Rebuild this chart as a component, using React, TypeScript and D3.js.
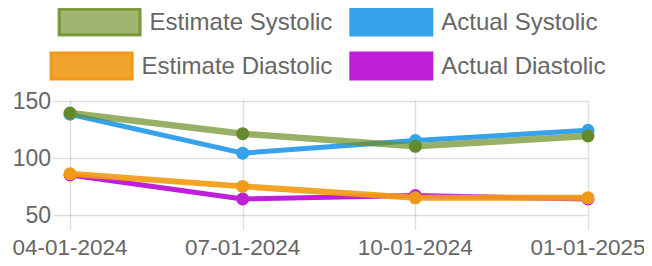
import { useEffect, useRef } from "react";
import * as d3 from "d3";

const WIDTH = 652;
const HEIGHT = 266;
const LABELS: string[] = ["04-01-2024", "07-01-2024", "10-01-2024", "01-01-2025"];
const SERIES_NAMES: string[] = ["Estimate Systolic", "Actual Systolic", "Estimate Diastolic", "Actual Diastolic"];
const EST_SYS: number[] = [139, 121, 110, 119];
const ACT_SYS: number[] = [138, 104, 115, 124];
const EST_DIA: number[] = [86, 75, 65, 65];
const ACT_DIA: number[] = [85, 64, 67, 64];
const Y_TICKS: number[] = [50, 100, 150];

const FONT = "'Liberation Sans', Arial, sans-serif";

const styles = [
  { line: "rgba(107,142,35,0.7)", point: "#638b2b", width: 6.5, box: "rgba(107,142,35,0.65)", border: "rgba(107,142,35,0.85)" },
  { line: "#36a2eb", point: "#36a2eb", width: 5, box: "#36a2eb", border: "#36a2eb" },
  { line: "rgba(243,156,18,0.92)", point: "#f0991a", width: 6, box: "rgba(240,160,35,0.95)", border: "#f0981a" },
  { line: "#c01fd9", point: "#c01fd9", width: 5, box: "#bf1fd8", border: "#c01fd9" },
];

const App = () => {
  const svgRef = useRef<SVGSVGElement | null>(null);

  useEffect(() => {
    if (!svgRef.current) return;
    const svg = d3.select(svgRef.current);
    svg.selectAll("*").remove();

    const data = [EST_SYS, ACT_SYS, EST_DIA, ACT_DIA];

    const x = d3.scalePoint<string>().domain(LABELS).range([70, 588]);
    const y = d3.scaleLinear().domain([50, 150]).range([215, 100.5]);

    // grid
    const grid = svg.append("g");
    grid
      .selectAll("line.h")
      .data(Y_TICKS)
      .join("line")
      .attr("x1", 53)
      .attr("x2", 588)
      .attr("y1", (d) => Math.round(y(d)) + 0.5)
      .attr("y2", (d) => Math.round(y(d)) + 0.5)
      .attr("stroke", "rgba(0,0,0,0.12)")
      .attr("stroke-width", 1.5);
    grid
      .selectAll("line.v")
      .data(LABELS)
      .join("line")
      .attr("x1", (d) => Math.round(x(d)!) + 0.5)
      .attr("x2", (d) => Math.round(x(d)!) + 0.5)
      .attr("y1", y(150))
      .attr("y2", 230)
      .attr("stroke", "rgba(0,0,0,0.12)")
      .attr("stroke-width", 1.5);

    // y labels
    svg
      .append("g")
      .selectAll("text")
      .data(Y_TICKS)
      .join("text")
      .attr("x", 51)
      .attr("y", (d) => y(d))
      .attr("dy", "0.35em")
      .attr("text-anchor", "end")
      .attr("font-family", FONT)
      .attr("font-size", 23)
      .attr("fill", "#666")
      .text((d) => d);

    // x labels
    svg
      .append("g")
      .selectAll("text")
      .data(LABELS)
      .join("text")
      .attr("x", (d) => x(d)!)
      .attr("y", 255)
      .attr("text-anchor", "middle")
      .attr("font-family", FONT)
      .attr("font-size", 22.5)
      .attr("fill", "#666")
      .text((d) => d);

    const line = d3
      .line<number>()
      .x((_, i) => x(LABELS[i])!)
      .y((d) => y(d));

    // dataset 0 drawn last (on top)
    for (let s = data.length - 1; s >= 0; s--) {
      const g = svg.append("g");
      g.append("path")
        .datum(data[s])
        .attr("fill", "none")
        .attr("stroke", styles[s].line)
        .attr("stroke-width", styles[s].width)
        .attr("stroke-linejoin", "round")
        .attr("d", line);
      g.selectAll("circle")
        .data(data[s])
        .join("circle")
        .attr("cx", (_, i) => x(LABELS[i])!)
        .attr("cy", (d) => y(d))
        .attr("r", 6.5)
        .attr("fill", styles[s].point);
    }

    // legend
    const rows = [
      [0, 1],
      [2, 3],
    ];
    const rowY = [22, 66];
    const boxW = 81;
    const boxH = 26;
    rows.forEach((row, r) => {
      const lg = svg.append("g");
      let cx = 0;
      row.forEach((s, k) => {
        const item = lg.append("g").attr("transform", `translate(${cx},0)`);
        item
          .append("rect")
          .attr("x", 1.5)
          .attr("y", rowY[r] - boxH / 2)
          .attr("width", boxW)
          .attr("height", boxH)
          .attr("fill", styles[s].box)
          .attr("stroke", styles[s].border)
          .attr("stroke-width", 3);
        const t = item
          .append("text")
          .attr("x", boxW + 11)
          .attr("y", rowY[r])
          .attr("dy", "0.35em")
          .attr("font-family", FONT)
          .attr("font-size", 24)
          .attr("fill", "#666")
          .text(SERIES_NAMES[s]);
        const tw = (t.node() as SVGTextElement).getComputedTextLength();
        cx += boxW + 11 + tw + (k < row.length - 1 ? 17 : 0);
      });
      lg.attr("transform", `translate(${327.5 - cx / 2},0)`);
    });
  }, []);

  return (
    <div style={{ margin: -8 }}>
      <svg ref={svgRef} width={WIDTH} height={HEIGHT} style={{ display: "block" }} />
    </div>
  );
};

export default App;
